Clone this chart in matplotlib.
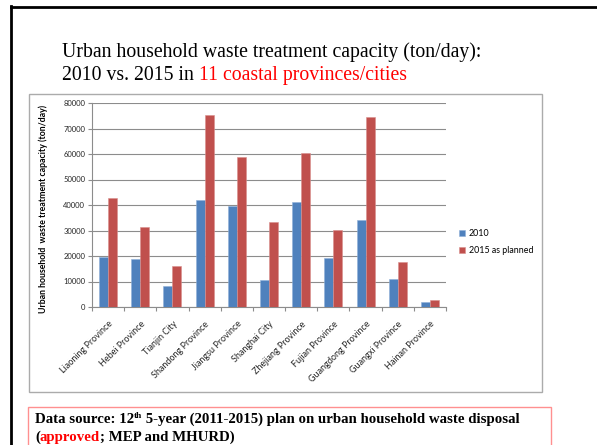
import matplotlib
matplotlib.use("Agg")
import numpy as np
from matplotlib import pyplot as plt
from matplotlib.patches import Rectangle
from matplotlib.lines import Line2D

W, H = 597, 445

provinces = ["Liaoning Province", "Hebei Province", "Tianjin City", "Shandong Province",
             "Jiangsu Province", "Shanghai City", "Zhejiang Province", "Fujian Province",
             "Guangdong Province", "Guangxi Province", "Hainan Province"]
cap_2010 = [19700, 18750, 8100, 41800, 39600, 10600, 41300, 19300, 34100, 11000, 1850]
cap_2015 = [42900, 31300, 16000, 75300, 58750, 33300, 60450, 30150, 74600, 17600, 2750]
series_names = ["2010", "2015 as planned"]
y_ticks = [0, 10000, 20000, 30000, 40000, 50000, 60000, 70000, 80000]

blue = "#4F81BD"
red = "#C0504D"
serif = "Liberation Serif"
sans = "Lato"


def px(x, y):
    # pixel position (from top-left) -> figure fraction
    return x / W, 1 - y / H


fig = plt.figure(figsize=(W / 100, H / 100), dpi=100)
renderer = fig.canvas.get_renderer()


def runs(x, y, parts, size, weight="normal"):
    # draw text pieces one after another on the same baseline
    cur = x
    for s, color, dy, scale in parts:
        fx, fy = px(cur, y - dy)
        t = fig.text(fx, fy, s, fontsize=size * scale, color=color, family=serif,
                     weight=weight, va="baseline", ha="left")
        bb = t.get_window_extent(renderer)
        cur += bb.width


# slide border
fig.add_artist(Line2D([px(11, 0)[0], 1], [px(0, 6.5)[1]] * 2, color="black", lw=2,
                      transform=fig.transFigure))
fig.add_artist(Line2D([px(11.3, 0)[0]] * 2, [px(0, 6)[1], 0], color="black", lw=2,
                      transform=fig.transFigure))

# title
runs(62, 57, [("Urban household waste treatment capacity (ton/day):", "black", 0, 1)], 14.2)
runs(62, 80, [("2010 vs. 2015 in ", "black", 0, 1),
              ("11 coastal provinces/cities", "#FF0000", 0, 1)], 14.2)

# chart frame
x0, y0 = px(29, 392)
x1, y1 = px(542, 94)
fig.add_artist(Rectangle((x0, y0), x1 - x0, y1 - y0, transform=fig.transFigure,
                         fill=False, edgecolor="#ABABAB", lw=1))

# source box
x0, y0 = px(28, 460)
x1, y1 = px(551, 407)
fig.add_artist(Rectangle((x0, y0), x1 - x0, y1 - y0, transform=fig.transFigure,
                         fill=False, edgecolor="#FF9090", lw=1))
runs(35, 423, [("Data source: 12", "black", 0, 1), ("th", "black", 4.5, 0.62),
               (" 5-year (2011-2015) plan on urban household waste disposal", "black", 0, 1)],
     10.7, weight="bold")
runs(35, 441, [("(", "black", 0, 1), ("approved", "#FF0000", 0, 1),
               ("; MEP and MHURD)", "black", 0, 1)], 10.7, weight="bold")

# bar chart
l, b = px(92, 307)
r, t = px(446, 103)
ax = fig.add_axes([l, b, r - l, t - b])
x = np.arange(len(provinces))
w = 0.28
ax.bar(x - w / 2, cap_2010, w, color=blue, edgecolor="#8FB0D8", linewidth=0.4,
       label=series_names[0], zorder=3)
ax.bar(x + w / 2, cap_2015, w, color=red, edgecolor="#D88F8D", linewidth=0.4,
       label=series_names[1], zorder=3)

ax.set_xlim(-0.5, len(provinces) - 0.5)
ax.set_ylim(0, 80000)
ax.set_yticks(y_ticks)
ax.set_yticklabels([str(v) for v in y_ticks], fontsize=5.5, family=sans, color="#262626")
ax.yaxis.grid(True, color="#8C8C8C", lw=0.8, zorder=0)
ax.tick_params(axis="y", length=3, width=0.8, color="#8C8C8C", pad=2)

# tick marks sit between the categories, labels under each category
ax.set_xticks(np.append(x - 0.5, len(provinces) - 0.5))
ax.set_xticklabels([])
ax.set_xticks(x, minor=True)
ax.set_xticklabels(provinces, minor=True, rotation=45, ha="right", va="top",
                   rotation_mode="anchor", fontsize=6.5, family=sans, color="#262626")
ax.tick_params(axis="x", which="major", length=3, width=0.8, color="#8C8C8C")
ax.tick_params(axis="x", which="minor", length=0, pad=9)

for side in ["top", "right"]:
    ax.spines[side].set_visible(False)
for side in ["left", "bottom"]:
    ax.spines[side].set_color("#8C8C8C")
    ax.spines[side].set_linewidth(0.8)

lx, ly = px(43, 209)
fig.text(lx, ly, "Urban household  waste treatment capacity (ton/day)", rotation=90,
         ha="center", va="center", fontsize=6.3, family=sans, weight="bold", color="black")

lgx, lgy = px(451, 242)
fig.legend(loc="center left", bbox_to_anchor=(lgx, lgy), frameon=False,
           handlelength=0.7, handleheight=0.7, handletextpad=0.4, labelspacing=0.9,
           prop={"family": sans, "size": 6.4})

fig.savefig("out.png", dpi=100)
